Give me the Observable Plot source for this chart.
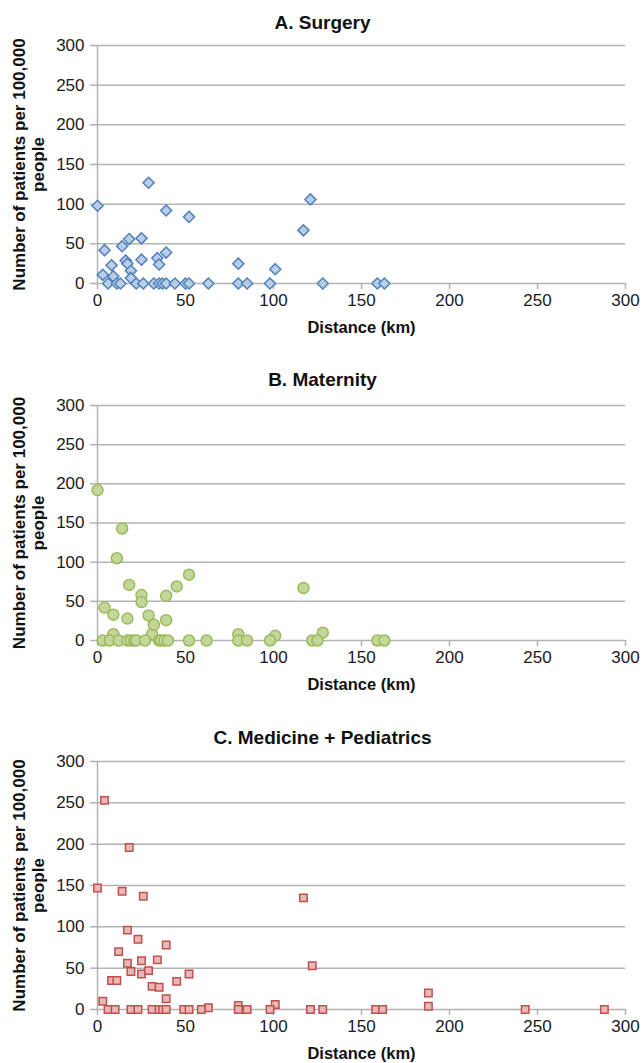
<!DOCTYPE html>
<html>
<head>
<meta charset="utf-8">
<script src="https://cdn.jsdelivr.net/npm/d3@7"></script>
<script src="https://cdn.jsdelivr.net/npm/@observablehq/plot@0.6"></script>
<style>
  html, body { margin: 0; padding: 0; background: #fff; }
  #chart svg { display: block; }
</style>
</head>
<body>
<div id="chart"></div>
<script>
// Tick labels
const xTicks = [0, 50, 100, 150, 200, 250, 300];
const yTicks = [0, 50, 100, 150, 200, 250, 300];

// A. Surgery: distance (km) and patients per 100,000
const surgeryDist = [0, 3, 4, 8, 9, 14, 16, 17, 18, 19, 19, 25, 25, 29, 34, 35, 39, 39, 52, 80, 101, 117, 121,
  6, 11, 13, 22, 26, 32, 35, 37, 39, 44, 50, 52, 63, 80, 85, 98, 128, 159, 163];
const surgeryRate = [98, 11, 42, 23, 9, 47, 29, 25, 56, 16, 7, 57, 30, 127, 32, 24, 92, 39, 84, 25, 18, 67, 106,
  0, 0, 0, 0, 0, 0, 0, 0, 0, 0, 0, 0, 0, 0, 0, 0, 0, 0, 0];

// B. Maternity
const maternityDist = [0, 4, 9, 9, 11, 14, 17, 18, 25, 25, 29, 31, 32, 39, 39, 45, 52, 80, 101, 117, 128,
  3, 7, 12, 17, 19, 21, 22, 27, 35, 36, 38, 40, 52, 62, 80, 85, 98, 122, 125, 159, 163];
const maternityRate = [192, 42, 33, 8, 105, 143, 28, 71, 58, 49, 32, 8, 20, 57, 26, 69, 84, 8, 6, 67, 10,
  0, 0, 0, 0, 0, 0, 0, 0, 0, 0, 0, 0, 0, 0, 0, 0, 0, 0, 0, 0, 0];

// C. Medicine + Pediatrics
const medicineDist = [4, 18, 0, 14, 26, 17, 23, 39, 12, 17, 25, 34, 19, 25, 29, 8, 11, 45, 52, 31, 35, 39, 3, 63, 80, 101, 117, 122, 188, 188,
  6, 10, 19, 23, 31, 35, 37, 39, 49, 52, 59, 80, 85, 98, 121, 128, 158, 162, 243, 288];
const medicineRate = [253, 196, 147, 143, 137, 96, 85, 78, 70, 56, 59, 60, 46, 43, 47, 35, 35, 34, 43, 28, 27, 13, 10, 2, 5, 6, 135, 53, 20, 4,
  0, 0, 0, 0, 0, 0, 0, 0, 0, 0, 0, 0, 0, 0, 0, 0, 0, 0, 0, 0];

const panels = [
  {title: "A. Surgery", dist: surgeryDist, rate: surgeryRate, symbol: "diamond2", r: 5, fill: "#b9cde5", stroke: "#4f81bd",
   height: 357, marginTop: 45, marginBottom: 74},
  {title: "B. Maternity", dist: maternityDist, rate: maternityRate, symbol: "circle", r: 5.5, fill: "#c3d69b", stroke: "#9bbb59",
   height: 358, marginTop: 48, marginBottom: 75},
  {title: "C. Medicine + Pediatrics", dist: medicineDist, rate: medicineRate, symbol: "square", r: 4.2, fill: "#e6b9b8", stroke: "#c0504d",
   height: 348, marginTop: 46, marginBottom: 54}
];

const gray = "#b3b3b3";
const font = "'Liberation Sans', Arial, Helvetica, sans-serif";
const chart = document.getElementById("chart");

for (const p of panels) {
  const data = p.dist.map((d, i) => ({dist: d, rate: p.rate[i]}));
  const plot = Plot.plot({
    width: 643,
    height: p.height,
    marginLeft: 97,
    marginRight: 18,
    marginTop: p.marginTop,
    marginBottom: p.marginBottom,
    style: {fontFamily: font, fontSize: "17px", color: "#1a1a1a", background: "#fff", overflow: "visible"},
    x: {domain: [0, 300]},
    y: {domain: [0, 300]},
    marks: [
      Plot.gridY(yTicks, {stroke: gray, strokeOpacity: 1, strokeWidth: 1.5}),
      Plot.ruleX([0], {y1: 0, y2: 300, stroke: gray, strokeWidth: 1.5}),
      Plot.axisY(yTicks, {tickSize: 7, tickPadding: 6, stroke: gray, strokeWidth: 1.5, fill: "#1a1a1a", fontSize: 17, label: null}),
      Plot.axisX(xTicks, {tickSize: 6, tickPadding: 4, stroke: gray, strokeWidth: 1.5, fill: "#1a1a1a", fontSize: 17, label: null}),
      Plot.dot(data, {x: "dist", y: "rate", symbol: p.symbol, r: p.r, fill: p.fill, stroke: p.stroke, strokeWidth: 1.5}),
      Plot.text([p.title], {frameAnchor: "top", lineAnchor: "middle", dx: 322 - 361, dy: 22 - p.marginTop,
        fontWeight: "bold", fontSize: 19, fill: "#111"}),
      Plot.text(["Number of patients per 100,000\npeople"], {frameAnchor: "left", rotate: -90, dx: 28 - 97, lineHeight: 1.12,
        textAnchor: "middle", lineAnchor: "middle", fontWeight: "bold", fontSize: 17, fill: "#111"}),
      Plot.text(["Distance (km)"], {frameAnchor: "bottom", lineAnchor: "middle", dy: 44, fontWeight: "bold", fontSize: 16.5, fill: "#111"})
    ]
  });
  chart.appendChild(plot);
}
</script>
</body>
</html>
